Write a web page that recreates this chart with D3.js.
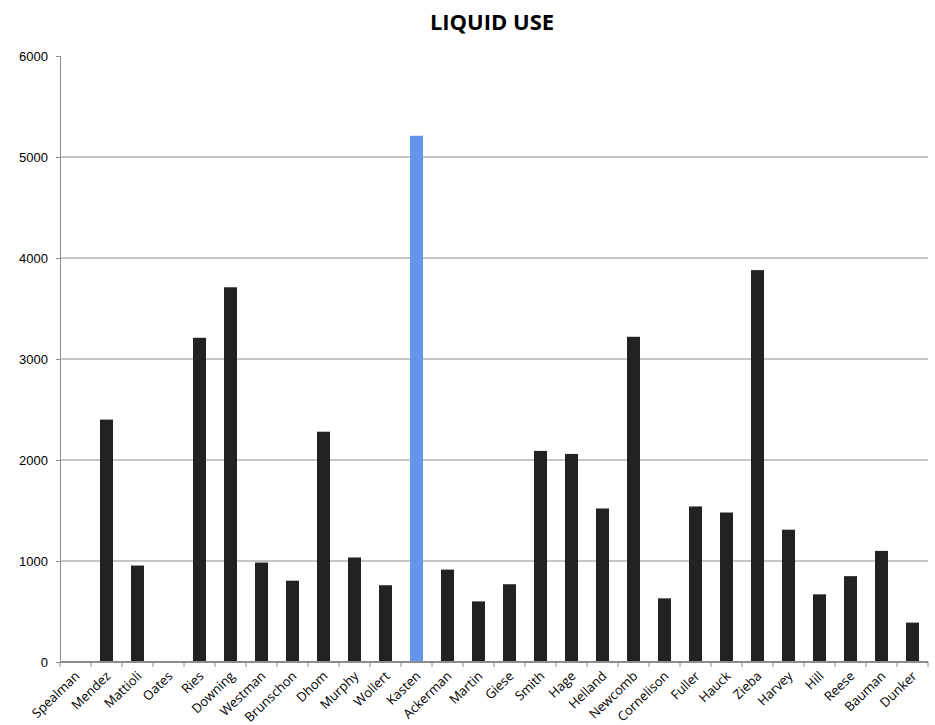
<!DOCTYPE html>
<html>
<head>
<meta charset="utf-8">
<script src="https://cdn.jsdelivr.net/npm/d3@7"></script>
<style>
  body { margin: 0; background: #fff; }
  svg { font-family: "Open Sans", sans-serif; }
</style>
</head>
<body>
<svg id="chart" width="935" height="725"></svg>
<script>
var names = ['Spealman', 'Mendez', 'Mattioli', 'Oates', 'Ries', 'Downing', 'Westman',
  'Brunschon', 'Dhom', 'Murphy', 'Wollert', 'Kasten', 'Ackerman', 'Martin', 'Giese',
  'Smith', 'Hage', 'Helland', 'Newcomb', 'Cornelison', 'Fuller', 'Hauck', 'Zieba',
  'Harvey', 'Hill', 'Reese', 'Bauman', 'Dunker'];
var liquid = [0, 2400, 955, 0, 3210, 3710, 985, 805, 2280, 1035, 760, 5210, 915, 600,
  770, 2090, 2060, 1520, 3220, 630, 1540, 1480, 3880, 1310, 670, 850, 1100, 390];
var highlight = 'Kasten';
var yTicks = [0, 1000, 2000, 3000, 4000, 5000, 6000];

var margin = {top: 56, right: 7, bottom: 63, left: 60},
    width = 935 - margin.left - margin.right,
    height = 725 - margin.top - margin.bottom;

var svg = d3.select('#chart');
var g = svg.append('g').attr('transform', 'translate(' + margin.left + ',' + margin.top + ')');

var x = d3.scaleBand().domain(names).range([0, width]);
var y = d3.scaleLinear().domain([0, 6000]).range([height, 0]);

// gridlines
g.selectAll('.grid')
  .data(yTicks.filter(function(d){ return d > 0 && d < 6000; }))
  .enter().append('line')
  .attr('x1', 0).attr('x2', width)
  .attr('y1', function(d){ return y(d); })
  .attr('y2', function(d){ return y(d); })
  .style('stroke', '#8c8c8c').style('stroke-width', '1px');

// bars
var barW = 13;
g.selectAll('.bar')
  .data(liquid).enter()
  .append('rect')
  .attr('x', function(d, i){ return x(names[i]) + x.bandwidth() / 2 - barW / 2; })
  .attr('y', function(d){ return y(d); })
  .attr('width', barW)
  .attr('height', function(d){ return height - y(d); })
  .style('fill', function(d, i){ return names[i] == highlight ? '#6495ed' : '#222222'; });

// y axis
var yAxis = g.append('g')
  .call(d3.axisLeft(y).tickValues(yTicks).tickSize(4).tickPadding(8).tickFormat(d3.format('d')));
yAxis.select('.domain').attr('d', 'M-4,0.5H0.5V' + height);
yAxis.selectAll('line').attr('x1', -4).attr('x2', 0);
yAxis.selectAll('path, line').style('stroke', '#8c8c8c');
yAxis.selectAll('text').style('font-size', '13px').style('fill', '#000');

// x axis
var xAxis = g.append('g').attr('transform', 'translate(0,' + height + ')');
xAxis.append('line').attr('x1', 0).attr('x2', width).attr('y1', 0).attr('y2', 0)
  .style('stroke', '#8c8c8c').style('stroke-width', '2px');
xAxis.selectAll('.tick')
  .data(d3.range(names.length + 1)).enter()
  .append('line')
  .attr('x1', function(d){ return d * x.step(); })
  .attr('x2', function(d){ return d * x.step(); })
  .attr('y1', 0).attr('y2', 5)
  .style('stroke', '#8c8c8c');
xAxis.selectAll('.lbl')
  .data(names).enter()
  .append('text')
  .attr('transform', function(d){
    return 'translate(' + (x(d) + x.bandwidth() / 2 + 5) + ',15) rotate(-44)';
  })
  .attr('text-anchor', 'end')
  .style('font-size', '13px')
  .text(function(d){ return d; });

// title
svg.append('text')
  .attr('x', 492).attr('y', 30)
  .attr('text-anchor', 'middle')
  .style('font-size', '22px').style('font-weight', 'bold')
  .text('LIQUID USE');
</script>
</body>
</html>
